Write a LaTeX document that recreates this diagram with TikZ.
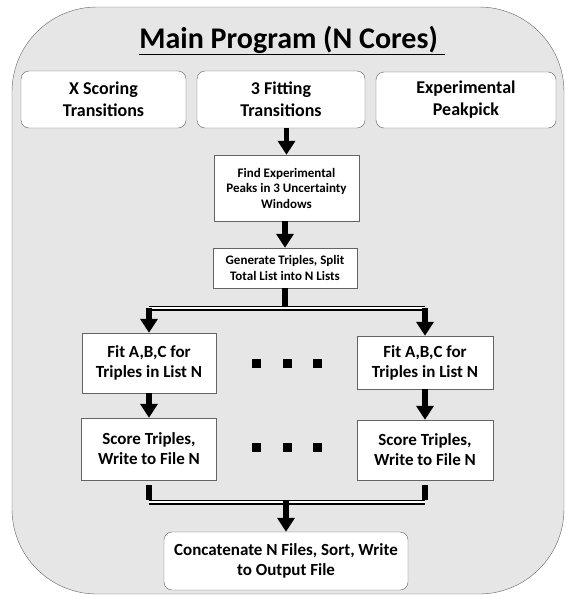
\documentclass[tikz,border=0pt]{standalone}
\usepackage{fontspec}
\setmainfont{Carlito}
\usetikzlibrary{arrows.meta,positioning}
\definecolor{panelgray}{RGB}{230,230,230}
\definecolor{edgegray}{RGB}{100,100,100}

\begin{document}
\begin{tikzpicture}[x=1pt,y=-1pt,
    topbox/.style={draw=edgegray,fill=white,rounded corners=8pt,align=center,inner sep=0pt,
      font=\fontsize{18}{22}\selectfont\bfseries},
    smallbox/.style={draw=edgegray,fill=white,align=center,inner sep=0pt,
      font=\fontsize{13}{15.5}\selectfont\bfseries},
    corebox/.style={draw=edgegray,fill=white,align=center,inner sep=0pt,
      font=\fontsize{17}{20}\selectfont\bfseries},
    flow/.style={line width=5.5pt,-{Triangle[width=17pt,length=14pt]}},
    stub/.style={line width=5.5pt},
    bus/.style={draw=black,double=white,double distance=1.6pt,line width=1.9pt}]
    \useasboundingbox (0,0) rectangle (566,597);
    % panel
    \draw[edgegray,fill=panelgray,rounded corners=85pt] (12,7) rectangle (564,594);
    \node[anchor=base,font=\fontsize{30}{36}\selectfont\bfseries] (title) at (292,48)
        {\underline{Main Program (N Cores)\ }};

    % inputs
    \node[topbox,minimum width=165pt,minimum height=57pt] (xscore) at (103.5,99.5) {X Scoring\\Transitions};
    \node[topbox,minimum width=168pt,minimum height=57pt] (fitting) at (281,99.5) {3 Fitting\\Transitions};
    \node[topbox,minimum width=180pt,minimum height=56pt] (peakpick) at (466,100) {Experimental\\Peakpick};

    \node[smallbox,minimum width=145pt,minimum height=66pt] (find) at (286.5,188)
        {Find Experimental\\Peaks in 3 Uncertainty\\Windows};
    \node[smallbox,minimum width=144pt,minimum height=40pt] (gen) at (285,268)
        {Generate Triples, Split\\Total List into N Lists};

    % per core
    \node[corebox,minimum width=134pt,minimum height=60pt] (fitL) at (149,363) {Fit A,B,C for\\Triples in List N};
    \node[corebox,minimum width=136pt,minimum height=53pt] (fitR) at (425,362.5) {Fit A,B,C for\\Triples in List N};
    \node[corebox,minimum width=135pt,minimum height=62pt] (scoreL) at (149,449) {Score Triples,\\Write to File N};
    \node[corebox,minimum width=136pt,minimum height=60pt] (scoreR) at (425,450) {Score Triples,\\Write to File N};

    \node[topbox,font=\fontsize{17}{20}\selectfont\bfseries,minimum width=244pt,minimum height=58pt] (concat) at (286,561)
        {Concatenate N Files, Sort, Write\\to Output File};

    \foreach \dx in {256,287,317}
      \foreach \dy in {363,447}
        \fill (\dx-4.5,\dy-4.5) rectangle (\dx+4.5,\dy+4.5);

    % connectors
    \draw[flow] (find.north |- fitting.south) -- (find.north);
    \draw[flow] (find.south -| gen.north) -- (gen.north);
    \path (gen.south) ++(0,20) coordinate (split);
    \draw[stub] (gen.south) -- (split);
    \draw[bus] (fitL.north |- split) -- (fitR.north |- split);
    \draw[flow] (fitL.north |- split) -- (fitL.north);
    \draw[flow] (fitR.north |- split) -- (fitR.north);
    \draw[flow] (fitL) -- (scoreL);
    \draw[flow] (fitR) -- (scoreR);

    \path (scoreL.south) ++(0,22) coordinate (joinL);
    \path (scoreR.south |- joinL) coordinate (joinR);
    \draw[bus] (joinL) -- (joinR);
    \draw[stub] (scoreL.south) ++(0,5) -- ([yshift=2.5pt]joinL);
    \draw[stub] (scoreR.south) ++(0,5) -- ([yshift=2.5pt]joinR);
    \draw[flow] ([yshift=2pt]concat.north |- joinL) -- (concat.north);
\end{tikzpicture}
\end{document}
